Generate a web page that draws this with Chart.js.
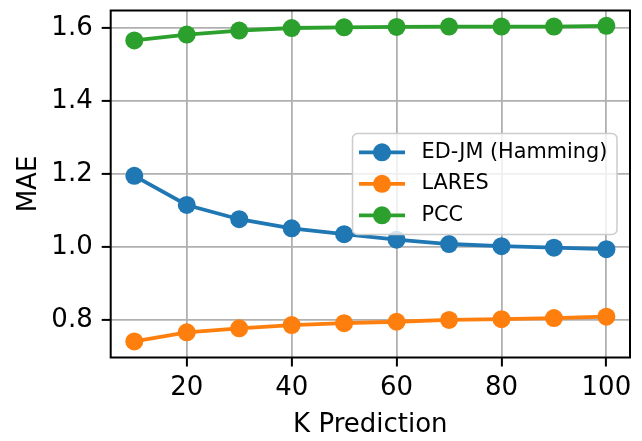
<!DOCTYPE html>
<html>
<head>
<meta charset="utf-8">
<script src="https://cdn.jsdelivr.net/npm/chart.js@4"></script>
<style>
  html, body { margin: 0; padding: 0; background: #fff; }
  #wrap { width: 642px; height: 441px; }
</style>
</head>
<body>
<div id="wrap"><canvas id="maeChart"></canvas></div>
<script>
// K values on the x axis
const kValues = [10, 20, 30, 40, 50, 60, 70, 80, 90, 100];

// MAE per method
const edjmHamming = [1.195, 1.115, 1.076, 1.051, 1.035, 1.020, 1.008, 1.002, 0.998, 0.994];
const lares = [0.741, 0.766, 0.777, 0.786, 0.791, 0.795, 0.800, 0.802, 0.805, 0.809];
const pcc = [1.566, 1.582, 1.593, 1.600, 1.602, 1.603, 1.604, 1.604, 1.604, 1.606];

// tick labels
const xTicks = [20, 40, 60, 80, 100];
const yTicks = [0.8, 1.0, 1.2, 1.4, 1.6];

const FONT = "'DejaVu Sans', sans-serif";
const AXIS_FONT = 26;

const toPoints = arr => arr.map((v, i) => ({ x: kValues[i], y: v }));

function makeSet(label, data, color) {
    return {
        label: label,
        data: toPoints(data),
        borderColor: color,
        backgroundColor: color,
        pointBackgroundColor: color,
        pointBorderColor: color,
        pointBorderWidth: 0,
        pointRadius: 9,
        pointHoverRadius: 9,
        borderWidth: 3.8,
        tension: 0,
        clip: false
    };
}

// black frame round the plot (all four spines)
const framePlugin = {
    id: 'frame',
    afterDatasetsDraw(chart) {
        const { ctx, chartArea: a } = chart;
        ctx.save();
        ctx.strokeStyle = '#000';
        ctx.lineWidth = 2;
        ctx.strokeRect(a.left, a.top, a.right - a.left, a.bottom - a.top);
        ctx.restore();
    }
};

// matplotlib-like legend box inside the plot
const boxLegend = {
    id: 'boxLegend',
    afterDraw(chart) {
        const ctx = chart.ctx;
        const x0 = 352.5, y0 = 133.5, w = 264.5, h = 101, r = 5;
        ctx.save();
        ctx.beginPath();
        ctx.roundRect(x0, y0, w, h, r);
        ctx.fillStyle = 'rgba(255,255,255,0.8)';
        ctx.fill();
        ctx.strokeStyle = '#cccccc';
        ctx.lineWidth = 1.5;
        ctx.stroke();

        const rowGap = 31.5;
        const firstRow = 152.3;
        chart.data.datasets.forEach((ds, i) => {
            const y = firstRow + i * rowGap;
            ctx.strokeStyle = ds.borderColor;
            ctx.lineWidth = 3.8;
            ctx.beginPath();
            ctx.moveTo(359, y);
            ctx.lineTo(405, y);
            ctx.stroke();
            ctx.fillStyle = ds.borderColor;
            ctx.beginPath();
            ctx.arc(382, y, 9, 0, Math.PI * 2);
            ctx.fill();
            ctx.fillStyle = '#000';
            ctx.font = '20.8px ' + FONT;
            ctx.textBaseline = 'middle';
            ctx.textAlign = 'left';
            ctx.fillText(ds.label, 421.5, y);
        });
        ctx.restore();
    }
};

new Chart(document.getElementById('maeChart').getContext('2d'), {
    type: 'line',
    data: {
        datasets: [
            makeSet('ED-JM (Hamming)', edjmHamming, '#1f77b4'),
            makeSet('LARES', lares, '#ff7f0e'),
            makeSet('PCC', pcc, '#2ca02c')
        ]
    },
    options: {
        responsive: true,
        maintainAspectRatio: false,
        animation: false,
        events: [],
        layout: { padding: { left: 0, right: 12, top: 10.5, bottom: 0 } },
        plugins: {
            legend: { display: false },
            tooltip: { enabled: false }
        },
        scales: {
            x: {
                type: 'linear',
                min: 5.5,
                max: 104.5,
                afterBuildTicks: s => { s.ticks = xTicks.map(v => ({ value: v })); },
                afterFit: s => { s.height = 83.5; s.paddingLeft = 0; s.paddingRight = 0; },
                border: { display: false },
                grid: {
                    color: '#b0b0b0',
                    lineWidth: 1.8,
                    tickColor: '#000',
                    tickWidth: 2,
                    tickLength: 9
                },
                ticks: {
                    color: '#000',
                    padding: 6,
                    maxRotation: 0,
                    font: { family: FONT, size: AXIS_FONT },
                    callback: v => String(v)
                },
                title: {
                    display: true,
                    text: 'K Prediction',
                    color: '#000',
                    padding: { top: 0, bottom: 0 },
                    font: { family: FONT, size: AXIS_FONT }
                }
            },
            y: {
                type: 'linear',
                min: 0.697,
                max: 1.648,
                afterBuildTicks: s => { s.ticks = yTicks.map(v => ({ value: v })); },
                afterFit: s => { s.width = 110.7; s.paddingTop = 0; s.paddingBottom = 0; },
                border: { display: false },
                grid: {
                    color: '#b0b0b0',
                    lineWidth: 1.8,
                    tickColor: '#000',
                    tickWidth: 2,
                    tickLength: 9
                },
                ticks: {
                    color: '#000',
                    padding: 9,
                    font: { family: FONT, size: AXIS_FONT },
                    callback: v => Number(v).toFixed(1)
                },
                title: {
                    display: true,
                    text: 'MAE',
                    color: '#000',
                    padding: { top: 14, bottom: 0 },
                    font: { family: FONT, size: AXIS_FONT }
                }
            }
        }
    },
    plugins: [framePlugin, boxLegend]
});
</script>
</body>
</html>
